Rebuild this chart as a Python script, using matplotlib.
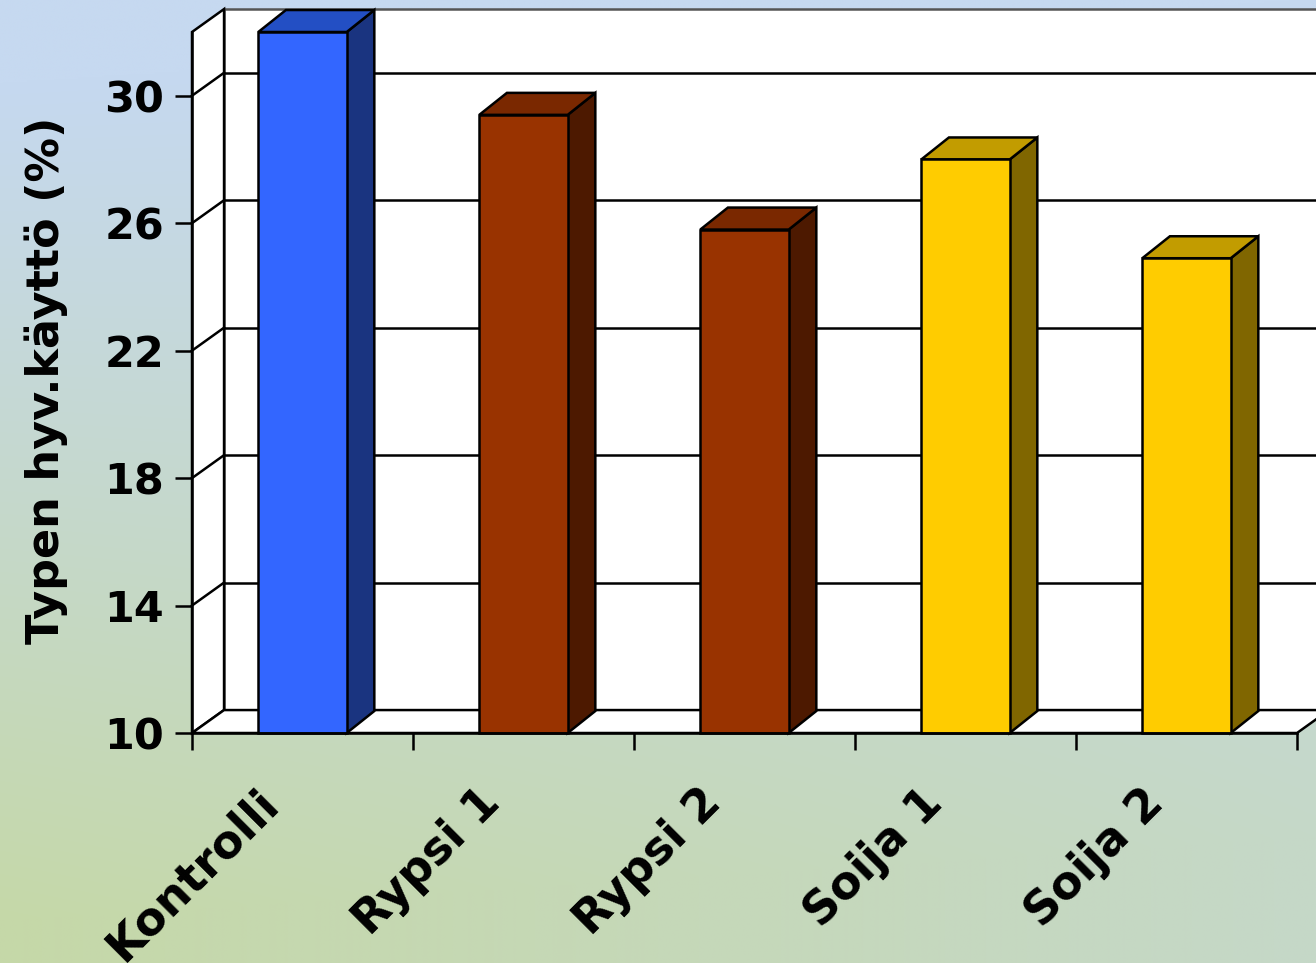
import numpy as np
import matplotlib.pyplot as plt
from matplotlib.patches import Polygon, Rectangle
from matplotlib.transforms import ScaledTranslation

# typen hyväksikäyttö eri rehuilla
categories = ['Kontrolli', 'Rypsi 1', 'Rypsi 2', 'Soija 1', 'Soija 2']
values = [32.0, 29.4, 25.8, 28.0, 24.9]
front_cols = ['#3366FF', '#993300', '#993300', '#FFCC00', '#FFCC00']
side_cols = ['#1A3480', '#4D1900', '#4D1900', '#806600', '#806600']
top_cols = ['#234FC4', '#7A2800', '#7A2800', '#C29C00', '#C29C00']
yticks = [10, 14, 18, 22, 26, 30]

ymin, ymax = 10, 32
wall_dx, wall_dy = 0.145, 0.72   # syvyys kategoria- ja arvoyksiköissä
bar_dx, bar_dy = 0.125, 0.69
bar_w = 0.4
lw = 1.8

fig = plt.figure(figsize=(13.16, 9.63), dpi=100)

# taustan liukuväri
bg = fig.add_axes([0, 0, 1, 1], zorder=-10)
yy, xx = np.mgrid[0:1:600j, 0:1:600j]
top = np.array([198, 217, 240]) / 255
bot_l = np.array([197, 216, 168]) / 255
bot_r = np.array([198, 216, 200]) / 255
bottom = bot_l[None, None, :] * (1 - xx[..., None]) + bot_r[None, None, :] * xx[..., None]
t = np.clip(yy * 1.15 - 0.1 + 0.1 * xx, 0, 1)[..., None]
img = top[None, None, :] * (1 - t) + bottom * t
bg.imshow(img, extent=[0, 1, 0, 1], aspect='auto', origin='upper', interpolation='bilinear')
bg.axis('off')

ax = fig.add_axes([192 / 1316, 1 - 733 / 963, 1105 / 1316, 701 / 963])
ax.set_xlim(-0.5, len(categories) - 0.5)
ax.set_ylim(ymin, ymax)
ax.patch.set_alpha(0)

x0, x1 = -0.5, len(categories) - 0.5

# seinät ja lattia
back = Polygon([(x0 + wall_dx, ymin + wall_dy), (x1 + wall_dx, ymin + wall_dy),
                (x1 + wall_dx, ymax + wall_dy), (x0 + wall_dx, ymax + wall_dy)],
               closed=True, fc='white', ec='#555555', lw=lw, clip_on=False, zorder=1)
side = Polygon([(x0, ymin), (x0 + wall_dx, ymin + wall_dy),
                (x0 + wall_dx, ymax + wall_dy), (x0, ymax)],
               closed=True, fc='white', ec='black', lw=lw, clip_on=False, zorder=2)
floor = Polygon([(x0, ymin), (x1, ymin), (x1 + wall_dx, ymin + wall_dy), (x0 + wall_dx, ymin + wall_dy)],
                closed=True, fc='white', ec='black', lw=lw, clip_on=False, zorder=2)
for p in (back, side, floor):
    ax.add_patch(p)

# ruudukko takaseinällä ja sivuseinällä
for v in yticks[1:]:
    ax.plot([x0 + wall_dx, x1 + wall_dx], [v + wall_dy, v + wall_dy], color='black', lw=lw,
            clip_on=False, zorder=3, solid_capstyle='butt')
    ax.plot([x0, x0 + wall_dx], [v, v + wall_dy], color='black', lw=lw, clip_on=False, zorder=3)

# pylväät
for i, v in enumerate(values):
    xl, xr = i - bar_w / 2, i + bar_w / 2
    ax.add_patch(Polygon([(xr, ymin), (xr + bar_dx, ymin + bar_dy), (xr + bar_dx, v + bar_dy), (xr, v)],
                         closed=True, fc=side_cols[i], ec='black', lw=lw, clip_on=False, zorder=5))
    ax.add_patch(Polygon([(xl, v), (xr, v), (xr + bar_dx, v + bar_dy), (xl + bar_dx, v + bar_dy)],
                         closed=True, fc=top_cols[i], ec='black', lw=lw, clip_on=False, zorder=5))
    ax.add_patch(Rectangle((xl, ymin), bar_w, v - ymin, fc=front_cols[i], ec='black', lw=lw,
                           clip_on=False, zorder=6))

for s in ['top', 'right']:
    ax.spines[s].set_visible(False)
for s in ['left', 'bottom']:
    ax.spines[s].set_linewidth(lw)
    ax.spines[s].set_zorder(7)

ax.set_yticks(yticks)
ax.set_yticklabels([str(v) for v in yticks], fontsize=31, fontweight='bold')
ax.tick_params(axis='y', length=12, width=lw, pad=8)

ax.set_xticks(range(len(categories)))
ax.set_xticklabels(categories, fontsize=33, fontweight='bold', rotation=45,
                   ha='right', va='top', rotation_mode='anchor')
ax.tick_params(axis='x', which='major', length=0, pad=34)
shift = ScaledTranslation(-0.46, 0, fig.dpi_scale_trans)
for lab in ax.get_xticklabels():
    lab.set_transform(lab.get_transform() + shift)
ax.set_xticks(np.arange(-0.5, len(categories)), minor=True)
ax.tick_params(axis='x', which='minor', length=12, width=lw)

ax.set_ylabel('Typen hyv.käyttö (%)', fontsize=32, fontweight='bold')
ax.yaxis.set_label_coords(-0.112, 0.503)

fig.savefig('out.png', dpi=100)
